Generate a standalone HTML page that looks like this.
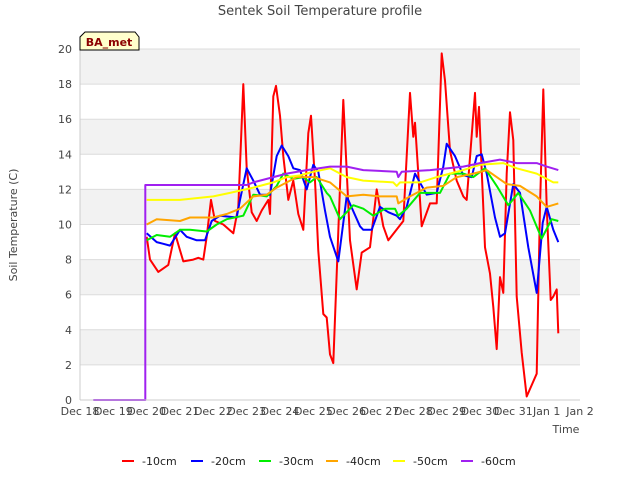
<!DOCTYPE html>
<html><head><meta charset="utf-8"><style>
body{margin:0;background:#fff;font-family:"Liberation Sans","DejaVu Sans",sans-serif;}
svg text{font-family:"DejaVu Sans","Liberation Sans",sans-serif;}
</style></head><body>
<svg id="chart" width="640" height="480" viewBox="0 0 640 480">
<text x="320" y="15" text-anchor="middle" font-size="13" fill="#444">Sentek Soil Temperature profile</text>
<g id="bands"></g><g id="grid"></g><g id="series"></g><g id="axes"></g>
<text transform="translate(17,225) rotate(-90)" text-anchor="middle" font-size="11" fill="#444">Soil Temperature (C)</text>
<text x="566" y="433" text-anchor="middle" font-size="11" fill="#444">Time</text>
<g>
<path d="M80,50 L80,37 L85,32 L135,32 L139,37 L139,50 Z" fill="#ffffcc" stroke="#000" stroke-width="1"/>
<text x="109" y="46" text-anchor="middle" font-size="11" font-weight="bold" fill="#8b0000">BA_met</text>
</g>
<g id="legend"></g>
</svg>
<script>
const ns='http://www.w3.org/2000/svg';
const xTickLabels=['Dec 18','Dec 19','Dec 20','Dec 21','Dec 22','Dec 23','Dec 24','Dec 25','Dec 26','Dec 27','Dec 28','Dec 29','Dec 30','Dec 31','Jan 1','Jan 2'];
const yTicks=[0,2,4,6,8,10,12,14,16,18,20];
const seriesNames=['-10cm','-20cm','-30cm','-40cm','-50cm','-60cm'];
const seriesColors=['#ff0000','#0000ff','#00ee00','#ffa500','#ffff00','#a020f0'];
const d10=[2.0,2.1,2.35,2.65,2.85,3.1,3.4,3.55,3.7,3.8,3.93,4.05,4.3,4.6,4.75,4.9,5.0,5.15,5.3,5.45,5.65,5.7,5.8,5.88,6.0,6.1,6.25,6.4,6.55,6.7,6.85,6.93,7.05,7.15,7.3,7.4,7.5,7.6,7.9,8.1,8.3,8.45,8.7,8.9,9.1,9.25,9.7,9.9,10.0,10.05,10.25,10.5,10.7,10.85,10.95,11.1,11.3,11.5,11.6,11.85,11.9,11.97,12.15,12.3,12.4,12.5,12.6,12.7,12.8,12.9,13.0,13.1,13.25,13.4,13.7,13.8,13.9,14.0,14.12,14.2,14.3,14.35];
const v10=[9.3,8.0,7.3,7.7,9.5,7.9,8.0,8.1,8.0,9.3,11.4,10.2,10.0,9.5,11.0,18.0,13.2,10.7,10.2,10.8,11.4,10.6,17.3,17.9,16.2,13.9,11.4,12.5,10.6,9.7,15.2,16.2,12.5,8.5,4.9,4.7,2.6,2.1,17.1,9.1,6.3,8.4,8.7,12.0,9.9,9.1,10.2,17.5,15.0,15.8,9.9,11.2,11.2,19.75,18.2,14.2,12.5,11.6,11.4,17.5,15.0,16.7,8.7,7.2,5.3,2.9,7.0,6.1,12.9,16.4,14.8,5.9,2.7,0.2,1.5,11.0,17.7,11.0,5.7,5.9,6.3,3.8];
const d20=[2.0,2.3,2.5,2.7,3.0,3.2,3.5,3.75,3.95,4.2,4.7,4.8,5.0,5.2,5.4,5.7,5.9,6.05,6.25,6.4,6.6,6.8,7.0,7.15,7.35,7.5,7.75,8.0,8.4,8.5,8.75,9.0,9.25,9.5,9.6,9.8,10.05,10.4,10.7,10.9,11.0,11.25,11.5,11.75,11.9,12.05,12.2,12.45,12.6,12.75,13.0,13.2,13.45,13.7,13.88,14.0,14.2,14.35];
const v20=[9.5,9.0,8.9,8.8,9.7,9.3,9.1,9.1,10.2,10.5,10.4,11.4,13.2,12.5,11.7,11.7,13.9,14.5,13.9,13.2,13.1,12.0,13.4,13.0,10.8,9.3,7.9,11.6,9.9,9.7,9.7,11.0,10.7,10.5,10.3,11.0,12.9,11.7,11.8,13.3,14.6,13.9,12.8,12.7,13.9,14.0,12.9,10.4,9.3,9.5,12.3,11.8,8.7,6.1,10.1,11.0,9.7,9.0];
const d30=[2.0,2.3,2.7,3.0,3.3,3.8,4.1,4.4,4.9,5.2,5.6,5.9,6.1,6.4,6.7,6.9,7.1,7.4,7.5,7.8,8.2,8.5,8.8,9.15,9.45,9.55,9.8,10.2,10.8,11.1,11.5,11.8,12.15,12.5,12.85,13.15,13.5,13.85,14.15,14.35];
const v30=[9.1,9.4,9.3,9.7,9.7,9.6,10.0,10.3,10.5,11.7,11.6,12.2,12.9,12.6,12.7,12.4,12.7,11.8,11.6,10.3,11.1,10.9,10.5,10.9,10.9,10.5,10.9,11.8,11.8,12.9,12.9,12.7,13.2,12.2,11.1,11.8,10.8,9.2,10.3,10.2];
const d40=[2.0,2.3,3.0,3.3,4.0,4.4,4.8,5.2,5.6,5.9,6.2,6.5,7.0,7.5,8.0,8.5,9.0,9.5,9.55,9.9,10.4,10.9,11.3,11.8,12.2,12.5,12.8,13.2,13.7,14.0,14.35];
const v40=[10.0,10.3,10.2,10.4,10.4,10.6,10.9,11.6,11.7,12.1,12.4,12.7,12.7,12.4,11.6,11.7,11.6,11.6,11.2,11.6,12.1,12.2,12.7,12.9,13.1,12.7,12.3,12.2,11.6,11.0,11.2];
const d50=[2.0,3.0,4.0,4.5,5.2,5.8,6.2,6.6,7.0,7.5,8.0,8.5,9.4,9.5,9.6,10.2,10.7,11.5,12.0,12.7,13.1,13.7,14.2,14.35];
const v50=[11.4,11.4,11.6,11.8,12.1,12.4,12.7,12.8,13.0,13.2,12.7,12.5,12.4,12.2,12.4,12.4,12.7,13.1,13.4,13.5,13.2,12.9,12.4,12.4];
const d60=[0.4,1.96,1.96,5.0,5.2,5.6,6.2,6.8,7.5,8.0,8.5,9.5,9.55,9.65,10.5,11.5,12.0,12.6,13.1,13.7,14.0,14.35];
const v60=[0,0,12.25,12.25,12.4,12.6,12.9,13.1,13.3,13.3,13.1,13.0,12.7,13.0,13.1,13.3,13.5,13.7,13.5,13.5,13.3,13.1];
const allD=[d10,d20,d30,d40,d50,d60], allV=[v10,v20,v30,v40,v50,v60];
const X0=80,X1=580,Y0=400,Y1=49;
const xs=d=>X0+(X1-X0)*d/15;
const ys=v=>Y0-(Y0-Y1)*v/20;
function mk(tag,attrs,parent){const e=document.createElementNS(ns,tag);for(const k in attrs)e.setAttribute(k,attrs[k]);parent.appendChild(e);return e;}
const bands=document.getElementById('bands'),grid=document.getElementById('grid'),axes=document.getElementById('axes'),ser=document.getElementById('series'),leg=document.getElementById('legend');
for(let i=0;i<yTicks.length-1;i++){
  if(i%2===1){const r=mk('rect',{x:X0,y:ys(yTicks[i+1]),width:X1-X0,height:ys(yTicks[i])-ys(yTicks[i+1]),fill:'#f2f2f2'},bands);
  
  }
}
yTicks.forEach(t=>{
  const l=mk('line',{x1:X0,x2:X1,y1:ys(t),y2:ys(t),stroke:'#dcdcdc','stroke-width':1},grid);
  
  
  const tx=mk('text',{x:X0-8,y:ys(t)+4,'text-anchor':'end','font-size':11,fill:'#444'},axes);
  tx.textContent=t;
  
  
});
mk('line',{x1:X0,x2:X0,y1:Y1,y2:Y0,stroke:'#ccc'},axes);
mk('line',{x1:X0,x2:X1,y1:Y0,y2:Y0,stroke:'#ccc'},axes);
xTickLabels.forEach((t,i)=>{
  const tx=mk('text',{x:xs(i),y:415,'text-anchor':'middle','font-size':11,fill:'#444'},axes);
  tx.textContent=t;
  
  
});
allD.forEach((ds,si)=>{
  const pts=ds.map((d,i)=>xs(d).toFixed(1)+','+ys(allV[si][i]).toFixed(1)).join(' ');
  const p=mk('polyline',{points:pts,fill:'none',stroke:seriesColors[si],'stroke-width':2,'stroke-linejoin':'round'},ser);
  
  
});
const legX=[122,191,259,326,393,461];
seriesNames.forEach((n,i)=>{
  const g=mk('g',{},leg);
  
  
  mk('line',{x1:legX[i],x2:legX[i]+12,y1:461,y2:461,stroke:seriesColors[i],'stroke-width':2},g);
  const t=mk('text',{x:legX[i]+20,y:465,'font-size':11,fill:'#222'},g);
  t.textContent=n;
});
</script>
</body></html>
